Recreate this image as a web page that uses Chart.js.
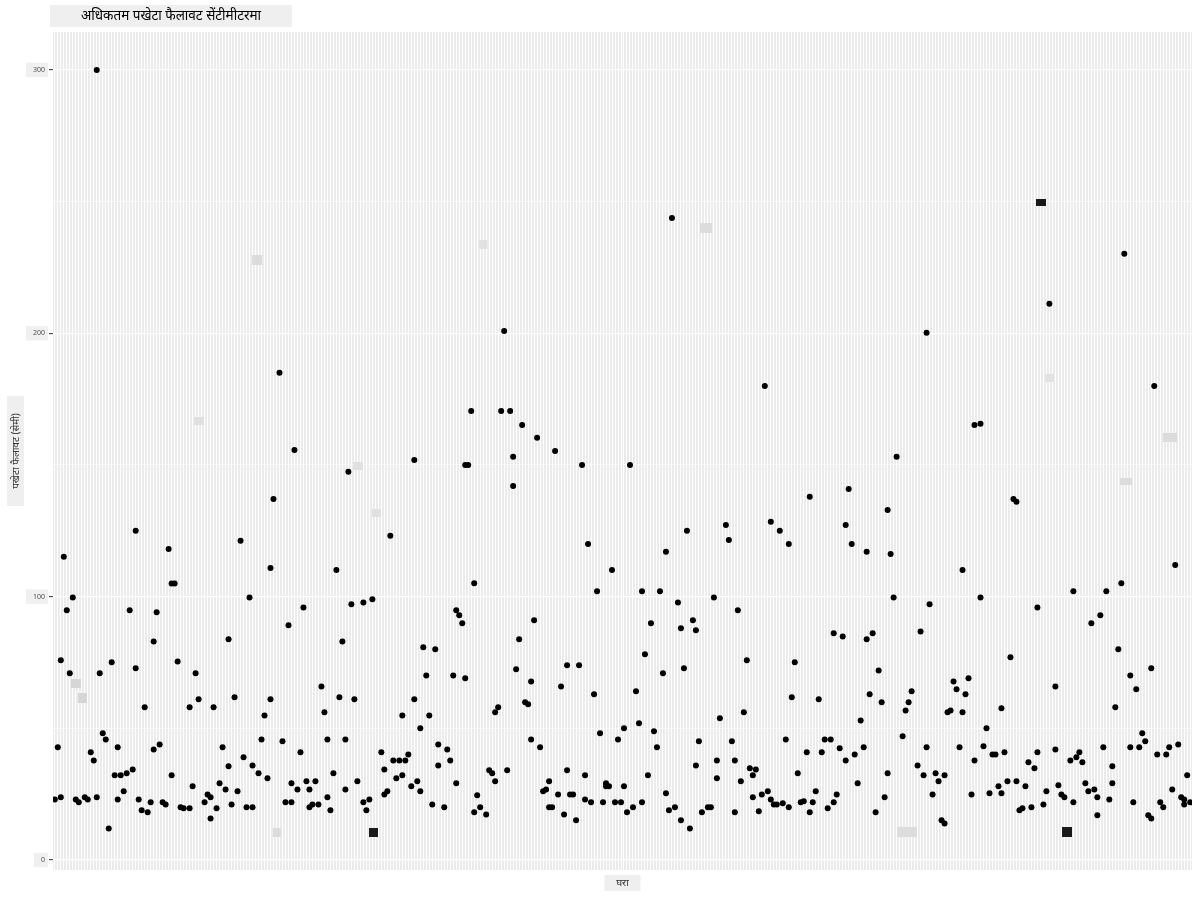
<!DOCTYPE html>
<html>
<head>
<meta charset="utf-8">
<script src="https://cdn.jsdelivr.net/npm/chart.js@4.4.1/dist/chart.umd.min.js"></script>
<style>
  html, body { margin: 0; padding: 0; background: #ffffff; }
  #wrap { width: 1200px; height: 900px; }
</style>
</head>
<body>
<div id="wrap"><canvas id="chart" width="1200" height="900"></canvas></div>
<script>
const chartTitle = 'अधिकतम पखेटा फैलावट सेंटीमीटरमा';
const yAxisTitle = 'पखेटा फैलावट (सेमी)';
const xAxisTitle = 'घरा';

// one grid line per bird name, names themselves are not shown
const categoryCount = 380;
const yTicks = [0, 50, 100, 150, 200, 250, 300];
const yTickLabels = ['0', '', '100', '', '200', '', '300'];

// category position of each bird and its max wingspan (cm)
const speciesIndex = [
  14, 3, 27, 38, 62, 75, 73, 72, 80, 98, 94, 112, 120, 137, 138, 139, 150, 149, 152, 153,
  153, 156, 161, 167, 176, 178, 186, 192, 204, 206, 211, 224, 225, 237, 239, 242, 245, 252, 264, 265,
  266, 271, 278, 279, 281, 291, 303, 307, 309, 320, 321, 332, 357, 367, 374,
  39, 40, 6, 4, 25, 34, 33, 58, 2, 19, 41, 27, 5, 15, 47, 48, 60, 30, 45, 53,
  16, 17, 1, 21, 35, 33, 56, 12, 13, 58, 20, 22, 24, 26, 39, 55, 46, 57, 61, 23,
  51, 52, 0, 2, 7, 8, 10, 11, 14, 21, 28, 32, 36, 37, 29, 31, 42, 43, 45, 50,
  54, 59, 52, 18,
  65, 83, 78, 99, 103, 106, 96, 123, 127, 124, 89, 72, 95, 100, 120, 70, 90, 116, 125, 122,
  69, 76, 91, 97, 82, 109, 118, 63, 66, 113, 115, 117, 110, 68, 71, 93, 116, 114, 79, 84,
  87, 101, 121, 81, 85, 97, 119, 122, 111, 110, 91, 77, 79, 103, 105, 126, 64, 66, 85, 86,
  88, 92, 104,
  140, 181, 134, 135, 136, 160, 155, 133, 137, 154, 159, 171, 175, 169, 180, 157, 158, 148, 147, 182,
  188, 128, 131, 128, 132, 134, 159, 162, 145, 146, 151, 147, 171, 177, 165, 163, 164, 168, 172, 173,
  184, 184, 185, 190, 141, 177, 130, 140, 142, 144, 165, 166, 170, 174, 179, 183, 187, 189,
  196, 202, 220, 208, 228, 199, 213, 209, 214, 197, 231, 247, 203, 210, 194, 246, 222, 230, 190, 195,
  200, 201, 215, 226, 244, 251, 214, 221, 227, 232, 234, 233, 248, 198, 221, 229, 204, 233, 236, 238,
  239, 240, 241, 243, 245, 249, 250, 191, 193, 196, 205, 207, 209, 212, 216, 218, 219, 227, 235, 252,
  280, 309, 292, 260, 263, 271, 273, 289, 275, 255, 272, 276, 286, 285, 284, 300, 305, 301, 304, 298,
  299, 303, 316, 269, 311, 283, 257, 259, 256, 262, 264, 267, 270, 291, 302, 310, 307, 313, 314, 288,
  278, 290, 294, 297, 295, 268, 254, 253, 261, 260, 258, 277, 274, 293, 306, 312, 315, 316, 296, 297,
  340, 351, 356, 328, 349, 346, 319, 355, 366, 359, 361, 334, 354, 363, 364, 317, 328, 334, 342, 341,
  343, 339, 350, 359, 362, 368, 371, 372, 375, 325, 327, 353, 318, 321, 324, 331, 335, 336, 337, 344,
  345, 347, 348, 353, 352, 378, 373, 376, 377, 377, 379, 322, 323, 326, 330, 340, 348, 360, 365, 366,
  369, 370
];
const maxWingspan = [
  300.0, 115.1, 125.0, 118.1, 121.2, 185.0, 137.1, 110.9, 155.7, 147.4, 110.1, 123.1, 151.9, 150.0, 150.0, 170.5, 200.9, 170.5, 170.5, 153.1,
  142.0, 165.2, 160.3, 155.3, 150.0, 120.0, 110.1, 150.0, 117.0, 243.8, 125.0, 127.2, 121.5, 180.0, 128.4, 125.0, 120.0, 137.9, 127.2, 140.9,
  120.0, 117.0, 132.9, 116.2, 153.1, 200.2, 110.1, 165.2, 165.6, 137.1, 136.0, 211.2, 230.2, 180.0, 112.0,
  105.0, 105.0, 99.7, 94.8, 94.8, 94.1, 83.0, 83.8, 75.8, 75.1, 75.4, 72.8, 70.9, 70.9, 70.9, 61.0, 61.8, 58.0, 58.0, 58.0,
  48.1, 45.8, 42.8, 42.8, 43.9, 42.0, 42.8, 40.9, 37.8, 35.6, 32.2, 32.2, 32.9, 34.4, 32.2, 29.1, 28.0, 26.8, 26.1, 26.1,
  24.9, 23.8, 23.0, 23.8, 23.0, 21.9, 23.8, 23.0, 23.8, 23.0, 23.0, 21.9, 21.9, 21.1, 18.9, 18.1, 20.0, 19.6, 19.6, 21.9,
  19.6, 21.1, 15.8, 12.0,
  99.7, 95.9, 89.1, 97.1, 97.8, 99.0, 83.0, 80.8, 80.0, 70.1, 65.9, 61.0, 61.8, 61.0, 61.0, 54.9, 56.1, 54.9, 54.9, 50.0,
  45.8, 45.1, 45.8, 45.8, 40.9, 40.9, 40.1, 39.0, 35.9, 37.8, 37.8, 37.8, 34.4, 32.9, 31.0, 32.9, 32.2, 31.0, 29.1, 29.9,
  29.9, 29.9, 29.9, 26.8, 26.8, 26.8, 28.0, 26.1, 26.1, 24.9, 23.8, 21.9, 21.9, 21.9, 23.0, 21.1, 20.0, 20.0, 20.0, 21.1,
  21.1, 18.9, 18.9,
  105.1, 102.0, 94.8, 92.9, 89.9, 91.0, 83.8, 70.1, 69.0, 72.4, 67.8, 73.9, 73.9, 65.9, 62.9, 59.9, 59.1, 58.0, 56.1, 48.1,
  45.8, 43.9, 42.0, 35.9, 37.8, 29.1, 45.8, 42.8, 34.1, 32.9, 34.1, 29.9, 34.1, 32.2, 29.9, 26.1, 26.8, 24.9, 24.9, 24.9,
  29.1, 28.0, 28.0, 28.0, 24.6, 23.0, 20.0, 18.1, 20.0, 17.3, 20.0, 20.0, 17.3, 15.1, 21.9, 21.9, 21.9, 21.9,
  102.0, 102.0, 99.7, 97.8, 94.8, 89.9, 91.0, 88.0, 87.2, 78.1, 75.8, 75.1, 70.9, 72.8, 64.1, 61.8, 53.8, 56.1, 50.0, 51.9,
  48.9, 42.8, 45.1, 45.1, 45.8, 40.9, 35.9, 37.8, 37.8, 34.8, 34.4, 32.2, 32.9, 32.2, 31.0, 29.9, 25.3, 23.8, 24.9, 26.1,
  23.0, 21.1, 21.1, 21.5, 20.0, 21.9, 22.3, 18.1, 20.0, 21.9, 18.9, 20.0, 15.1, 12.0, 18.1, 20.0, 20.0, 18.1, 18.5, 18.1,
  99.7, 99.7, 97.1, 86.1, 84.9, 83.8, 86.1, 86.8, 72.0, 61.0, 62.9, 59.9, 64.1, 59.9, 56.8, 67.8, 69.0, 64.8, 62.9, 56.1,
  56.8, 56.1, 57.6, 53.0, 50.0, 47.0, 45.8, 45.8, 40.9, 42.4, 37.8, 40.1, 42.8, 42.8, 42.8, 43.2, 37.8, 40.1, 40.1, 35.9,
  32.9, 32.2, 32.9, 32.2, 29.9, 29.1, 26.1, 21.9, 24.9, 21.9, 19.6, 23.8, 18.1, 24.9, 24.9, 25.3, 28.0, 25.3, 15.1, 13.9,
  102.0, 102.0, 105.1, 95.9, 92.9, 89.9, 77.0, 80.0, 72.8, 70.1, 64.8, 65.9, 58.0, 48.1, 45.1, 40.9, 40.9, 42.0, 40.9, 39.0,
  37.1, 37.8, 42.8, 42.8, 42.8, 40.1, 40.1, 42.8, 43.9, 37.1, 34.8, 35.6, 29.9, 29.9, 28.0, 26.1, 28.4, 24.9, 23.8, 29.1,
  26.1, 26.8, 23.8, 29.1, 23.0, 32.2, 26.8, 23.8, 23.0, 21.1, 21.9, 18.9, 19.6, 20.0, 21.1, 21.9, 17.0, 21.9, 17.0, 15.8,
  21.9, 20.0
];

// empty text-label boxes left behind on the plot (category position, cm)
const labelBoxX = [67.5, 142.9, 217.3, 332.2, 372.2, 357.6, 284.4, 74.2, 48.1, 101.2, 107.5, 7.1, 9.1, 106.5, 329.2, 337.9];
const labelBoxY = [227.9, 233.8, 239.8, 182.9, 160.3, 143.6, 10.6, 10.6, 166.7, 149.6, 131.8, 67.2, 61.5, 10.6, 249.7, 10.6];
// box look: [width, height, fill]
const labelBoxStyle = [
  [10, 10, '#dcdcdc'], [8, 9, '#e2e2e2'], [12, 10, '#dcdcdc'], [9, 8, '#e2e2e2'],
  [14, 9, '#dcdcdc'], [12, 7, '#dcdcdc'], [20, 10, '#dcdcdc'], [8, 9, '#dcdcdc'],
  [10, 8, '#e0e0e0'], [10, 8, '#e0e0e0'], [9, 8, '#e0e0e0'], [10, 9, '#d6d6d6'],
  [9, 10, '#d6d6d6'], [9, 9, '#1a1a1a'], [10, 7, '#1a1a1a'], [10, 10, '#1a1a1a']
];

function boxSprite(w, h, color) {
  const c = document.createElement('canvas');
  c.width = w;
  c.height = h;
  const g = c.getContext('2d');
  g.fillStyle = color;
  g.fillRect(0, 0, w, h);
  return c;
}

const textFont = '"Noto Sans", "DejaVu Sans", sans-serif';

// grey panel plus the boxed title / axis titles
const panelBackground = {
  id: 'panelBackground',
  beforeDraw(chart) {
    const { ctx, chartArea: a } = chart;
    ctx.save();
    ctx.fillStyle = '#ebebeb';
    ctx.fillRect(a.left, a.top, a.right - a.left, a.bottom - a.top);
    ctx.restore();
  }
};

const boxedTitles = {
  id: 'boxedTitles',
  afterDraw(chart) {
    const { ctx, chartArea: a } = chart;
    const midX = (a.left + a.right) / 2;
    const midY = (a.top + a.bottom) / 2;
    ctx.save();
    ctx.textAlign = 'center';
    ctx.textBaseline = 'middle';

    // main title
    ctx.fillStyle = '#efefef';
    ctx.fillRect(a.left - 3, 5, 242, 22);
    ctx.fillStyle = '#000000';
    ctx.font = '13.5px ' + textFont;
    ctx.fillText(chartTitle, a.left - 3 + 121, 16);

    // x title
    ctx.fillStyle = '#efefef';
    ctx.fillRect(midX - 18, a.bottom + 5, 36, 16);
    ctx.fillStyle = '#333333';
    ctx.font = '10px ' + textFont;
    ctx.fillText(xAxisTitle, midX, a.bottom + 13);

    // y title
    ctx.fillStyle = '#efefef';
    ctx.fillRect(7, midY - 55, 17, 110);
    ctx.translate(16, midY);
    ctx.rotate(-Math.PI / 2);
    ctx.fillStyle = '#333333';
    ctx.fillText(yAxisTitle, 0, 0);
    ctx.restore();
  }
};

const points = speciesIndex.map((x, i) => ({ x: x, y: maxWingspan[i] }));
const boxes = labelBoxX.map((x, i) => ({ x: x, y: labelBoxY[i] }));
const boxSprites = labelBoxStyle.map(s => boxSprite(s[0], s[1], s[2]));

const xTickValues = [];
for (let i = 0; i < categoryCount; i++) xTickValues.push(i);

new Chart(document.getElementById('chart'), {
  type: 'scatter',
  data: {
    datasets: [
      {
        label: 'labels',
        data: boxes,
        pointStyle: boxSprites,
        pointRadius: 5,
        pointHoverRadius: 5
      },
      {
        label: 'MaxWingspan',
        data: points,
        pointStyle: 'circle',
        pointRadius: 3,
        pointHoverRadius: 3,
        pointBackgroundColor: '#000000',
        pointBorderWidth: 0
      }
    ]
  },
  options: {
    responsive: false,
    animation: false,
    layout: { padding: { left: 0, right: 8, top: 32, bottom: 30 } },
    plugins: {
      legend: { display: false },
      tooltip: { enabled: false },
      title: { display: false }
    },
    scales: {
      x: {
        type: 'linear',
        min: -0.6,
        max: categoryCount - 0.4,
        afterBuildTicks: (axis) => { axis.ticks = xTickValues.map(v => ({ value: v })); },
        afterFit: (axis) => { axis.height = 0; },
        border: { display: false },
        grid: { color: '#ffffff', lineWidth: 1, drawTicks: false },
        ticks: { display: false }
      },
      y: {
        type: 'linear',
        min: -3.8,
        max: 314.4,
        afterBuildTicks: (axis) => { axis.ticks = yTicks.map(v => ({ value: v })); },
        afterFit: (axis) => { axis.width = 53; },
        border: { display: false },
        grid: {
          color: '#ffffff',
          lineWidth: (c) => (c.tick && c.tick.value % 100 === 0 ? 1.3 : 0.6),
          tickLength: 4,
          tickWidth: 1,
          tickColor: (c) => (c.tick && c.tick.value % 100 === 0 ? '#333333' : 'rgba(0,0,0,0)')
        },
        ticks: {
          padding: 4,
          color: '#4d4d4d',
          font: { size: 7, family: textFont },
          showLabelBackdrop: (c) => c.tick && c.tick.value % 100 === 0,
          backdropColor: '#f0f0f0',
          backdropPadding: { top: 3, bottom: 3, left: 7, right: 3 },
          callback: (value, index) => yTickLabels[index]
        }
      }
    }
  },
  plugins: [panelBackground, boxedTitles]
});
</script>
</body>
</html>
